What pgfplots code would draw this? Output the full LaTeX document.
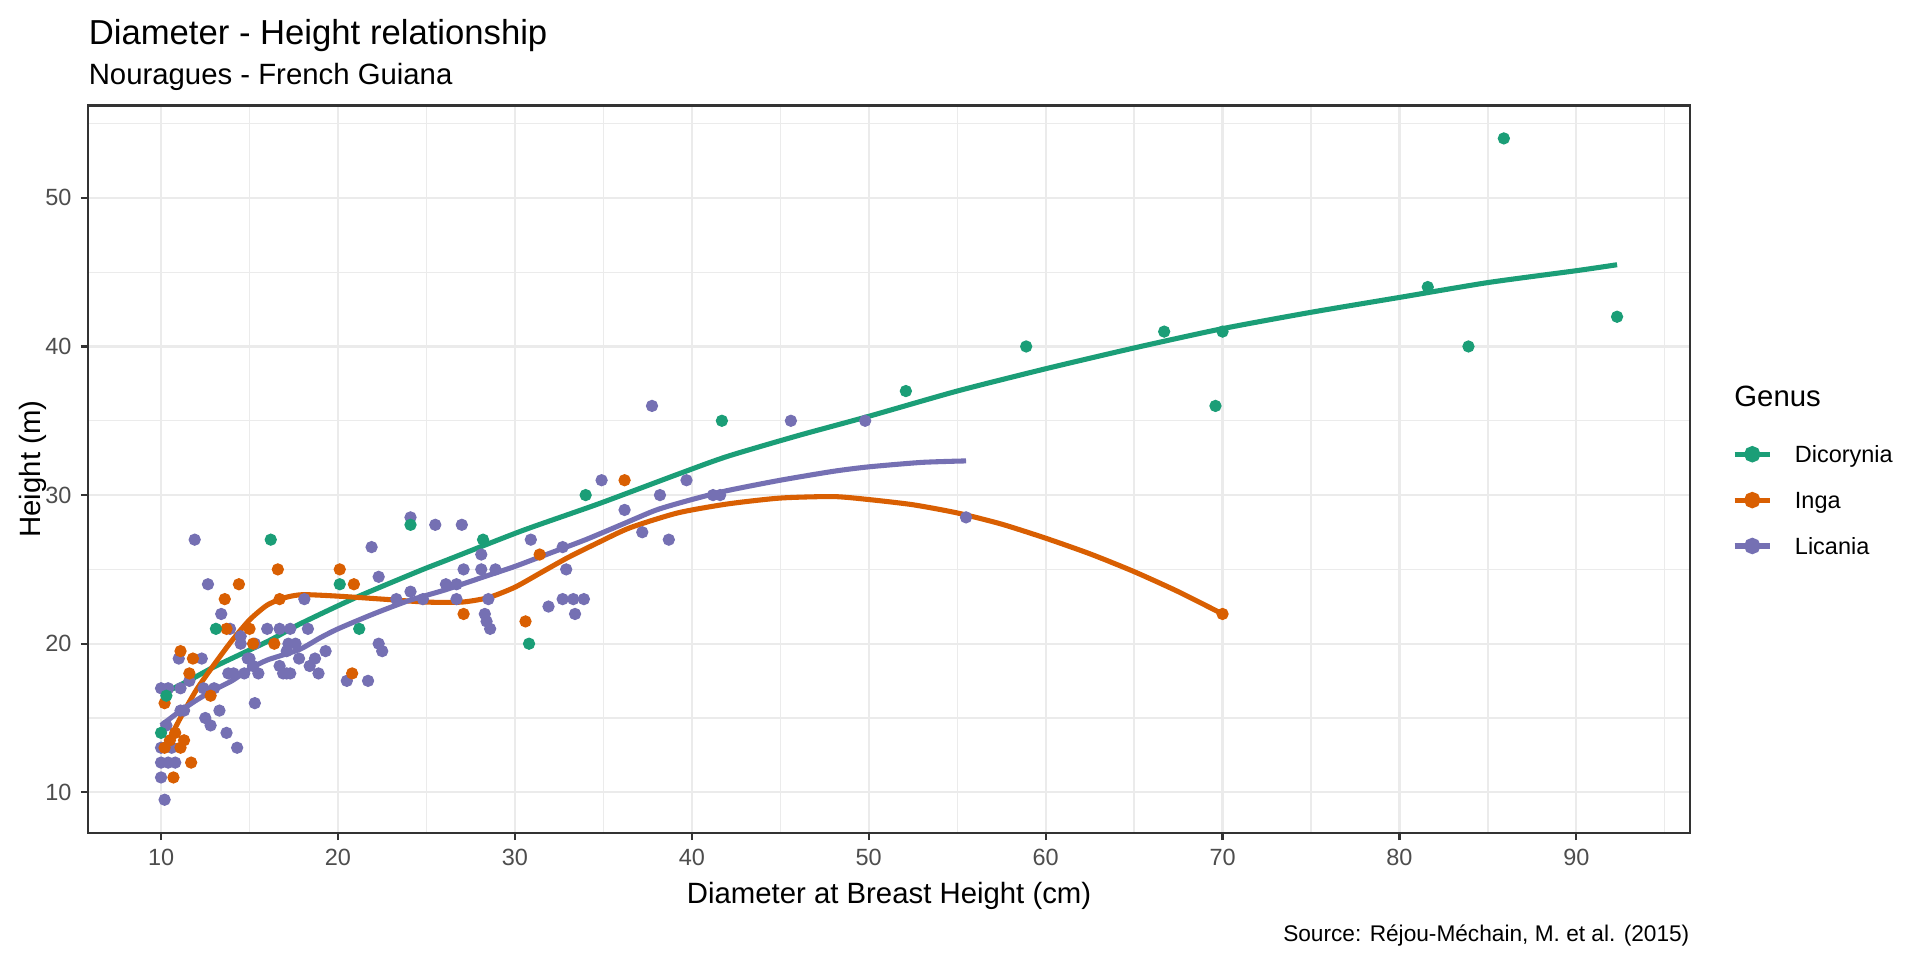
\documentclass[border=0pt]{standalone}
\usepackage{pgfplots}
\pgfplotsset{compat=1.18}
\usepackage{fontspec}
\setmainfont{Liberation Sans}
\definecolor{dkgreen}{HTML}{1B9E77}
\definecolor{dkorange}{HTML}{D95F02}
\definecolor{dkpurple}{HTML}{7570B3}
\definecolor{gridgray}{HTML}{EBEBEB}
\definecolor{bordergray}{HTML}{333333}
\definecolor{tickgray}{HTML}{4D4D4D}
\begin{document}
\begin{tikzpicture}
\useasboundingbox (0,0) rectangle (720pt,360pt);
\fill[white] (0,0) rectangle (720pt,360pt);
\begin{axis}[
  at={(33.1pt,47.7pt)}, anchor=south west,
  scale only axis, width=600.6pt, height=272.8pt,
  xmin=5.885, xmax=96.415, ymin=7.275, ymax=56.225,
  xtick={10,20,...,90}, ytick={10,20,...,50},
  minor xtick={15,25,...,95}, minor ytick={15,25,...,55},
  grid=both,
  major grid style={color=gridgray, line width=0.8pt},
  minor grid style={color=gridgray, line width=0.45pt},
  axis line style={color=bordergray, line width=0.9pt},
  tick align=outside, xtick pos=left, ytick pos=left,
  major tick length=2.75pt, minor tick length=0pt,
  tick style={color=bordergray, line width=0.8pt},
  tick label style={font=\fontsize{8.8}{10}\selectfont, color=tickgray},
  /pgf/number format/assume math mode=true,
  legend style={at={(1.021,0.560)}, anchor=north west, draw=none, fill=none,
    font=\fontsize{8.8}{10}\selectfont,
    nodes={inner sep=0pt, text height=11.7pt, text depth=5.5pt},
    /tikz/every odd column/.append style={column sep=8.4pt}},
  legend cell align=left,
  legend image code/.code={\draw[#1, line width=1.9pt] (0pt,0pt) -- (13.3pt,0pt);
     \fill[#1] (6.65pt,0pt) circle (2.1pt);},
]
% ---- scatter points ----
\addplot[only marks, mark=*, mark size=2.1pt, color=dkpurple, mark options={draw=none, fill=dkpurple}, forget plot] coordinates {
(10,17)(10.4,17)(10,13)(10,12)(10,11)(10.2,9.5)(10.3,14.5)(10.4,12)(10.6,13)(10.8,12)
(11,19)(11.1,15.5)(11.3,15.5)(11.1,17)(11.6,17.5)(11.9,27)(12.3,19)(12.4,17)(12.5,15)(12.65,24)
(12.8,14.5)(13,17)(13.3,15.5)(13.4,22)(13.7,14)(13.8,18)(14.1,18)(13.9,21)(14.3,13)(14.5,20)
(14.5,20.5)(14.7,18)(15,19)(15.2,18.5)(14.9,19)(15.3,16)(15.5,18)(15.3,20)(16,21)(16.7,21)
(17.3,21)(18.3,21)(16.9,18)(17.1,18)(17.3,18)(17.2,20)(17.6,20)(17.8,19)(17.1,19.5)(16.7,18.5)
(18.1,23)(18.7,19)(18.4,18.5)(18.9,18)(19.3,19.5)(20.5,17.5)(21.7,17.5)(21.9,26.5)(22.3,24.5)(22.3,20)
(22.5,19.5)(23.3,23)(24.1,23.5)(24.1,28.5)(24.8,23)(25.5,28)(26.1,24)(26.7,24)(26.7,23)(27.0,28)
(27.1,25)(28.1,25)(28.1,26)(28.3,22)(28.4,21.5)(28.6,21)(28.5,23)(28.9,25)(30.9,27)(31.9,22.5)
(32.7,23)(32.7,26.5)(32.9,25)(33.3,23)(33.4,22)(33.9,23)(34.9,31)(36.2,29)(37.2,27.5)(37.75,36)
(38.2,30)(38.7,27)(39.7,31)(41.2,30)(41.6,30)(45.6,35)(49.8,35)(55.5,28.5)
};
\addplot[only marks, mark=*, mark size=2.1pt, color=dkorange, mark options={draw=none, fill=dkorange}, forget plot] coordinates {
(10.2,16)(10.2,13)(10.5,13.5)(10.7,11)(10.8,14)(11.1,13)(11.3,13.5)(11.7,12)(11.6,18)(11.1,19.5)
(11.8,19)(12.8,16.5)(13.6,23)(14.4,24)(13.7,21)(15.0,21)(15.2,20)(16.4,20)(16.6,25)(16.7,23)
(20.1,25)(20.9,24)(20.8,18)(27.1,22)(30.6,21.5)(31.4,26)(36.2,31)(70,22)
};
\addplot[only marks, mark=*, mark size=2.1pt, color=dkgreen, mark options={draw=none, fill=dkgreen}, forget plot] coordinates {
(10,14)(10.3,16.5)(13.1,21)(16.2,27)(20.1,24)(21.2,21)(24.1,28)(28.2,27)(30.8,20)(34.0,30)
(41.7,35)(52.1,37)(58.9,40)(66.7,41)(69.6,36)(70,41)(81.6,44)(83.9,40)(85.9,54)(92.3,42)
};
% ---- smoothed curves ----
\addplot[color=dkgreen, line width=1.9pt, smooth, tension=0.4] coordinates {
(10.2,16.7)(11.7,17.6)(13.1,18.5)(16.1,20.2)(17.8,21.3)(21,23.1)(24.6,24.9)(26.1,25.6)(30.4,27.6)
(34.7,29.4)(39.2,31.4)(42,32.6)(46,34.0)(50,35.3)(55,37.0)(60,38.5)(65,39.9)(70,41.2)(75,42.3)
(80,43.3)(85,44.3)(90,45.1)(92.3,45.5)
};
\addlegendentry{Dicorynia}
\addplot[color=dkorange, line width=1.9pt, smooth, tension=0.4] coordinates {
(10.2,12.9)(11,14.8)(12,16.9)(13,18.6)(14,20.2)(15,21.6)(16,22.6)(17,23.1)(18,23.3)(20,23.2)
(22.5,23.0)(25,22.8)(27,22.8)(28.5,23.1)(30,23.8)(31.5,24.8)(33,25.8)(34.7,26.8)(36.5,27.8)
(39.2,28.8)(42,29.4)(45,29.8)(48,29.9)(50,29.7)(52.5,29.35)(55,28.8)(57.5,28.05)(60,27.1)
(62.5,26.05)(65,24.85)(67.5,23.5)(70,22)
};
\addlegendentry{Inga}
\addplot[color=dkpurple, line width=1.9pt, smooth, tension=0.4] coordinates {
(10,14.5)(11,15.4)(12,16.2)(13,16.9)(14,17.5)(15,18.3)(16,18.9)(17.8,19.6)(19,20.4)(20,21.0)
(22,22.0)(24,22.9)(26,23.6)(28,24.4)(30,25.2)(32,26.1)(34,27.0)(36,28.0)(38,29.0)(40,29.7)
(42,30.3)(45,31.0)(48,31.6)(50,31.9)(53,32.2)(55.5,32.3)
};
\addlegendentry{Licania}
\end{axis}
% ---- texts ----
\node[anchor=base west, font=\fontsize{13}{15}\selectfont, inner sep=0pt] at (33.1pt,343.5pt) {Diameter - Height relationship};
\node[anchor=base west, font=\fontsize{11}{13}\selectfont, inner sep=0pt] at (33.1pt,328.3pt) {Nouragues - French Guiana};
\node[anchor=base, font=\fontsize{11}{13}\selectfont, inner sep=0pt] at (333.4pt,21.1pt) {Diameter at Breast Height (cm)};
\node[anchor=base, rotate=90, font=\fontsize{11}{13}\selectfont, inner sep=0pt] at (15.2pt,184.1pt) {Height (m)};
\node[anchor=base east, font=\fontsize{8.5}{10}\selectfont, inner sep=0pt] at (633.7pt,6.8pt) {Source: Réjou-Méchain, M. et al. (2015)};
\node[anchor=base west, font=\fontsize{11}{13}\selectfont, inner sep=0pt] at (650.2pt,207.5pt) {Genus};
\end{tikzpicture}
\end{document}
